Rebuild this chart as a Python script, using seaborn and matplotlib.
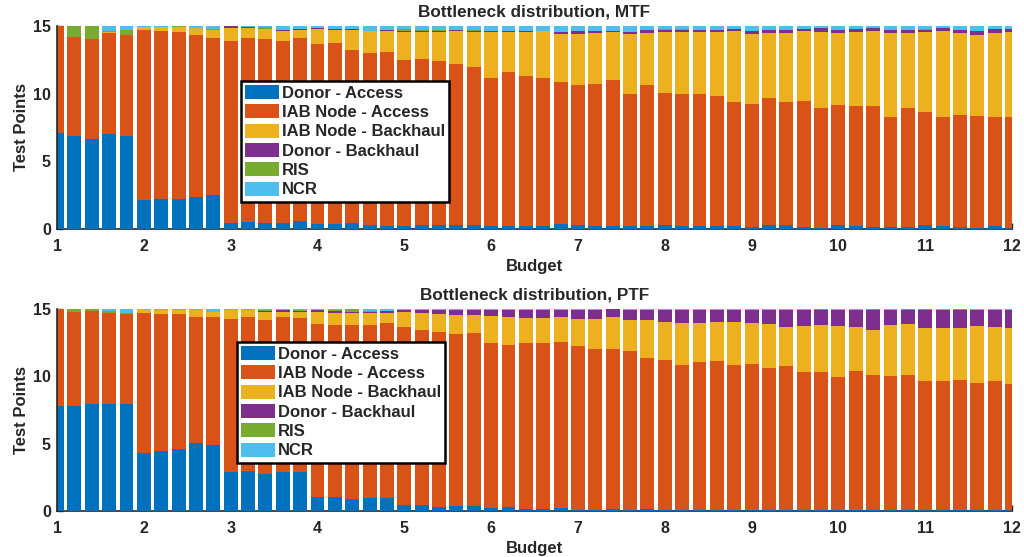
import numpy as np
import pandas as pd
import seaborn as sns
from matplotlib import pyplot as plt
from matplotlib.patches import Patch

budget = [1.0, 1.2, 1.4, 1.6, 1.8, 2.0, 2.2, 2.4, 2.6, 2.8,
          3.0, 3.2, 3.4, 3.6, 3.8, 4.0, 4.2, 4.4, 4.6, 4.8,
          5.0, 5.2, 5.4, 5.6, 5.8, 6.0, 6.2, 6.4, 6.6, 6.8,
          7.0, 7.2, 7.4, 7.6, 7.8, 8.0, 8.2, 8.4, 8.6, 8.8,
          9.0, 9.2, 9.4, 9.6, 9.8, 10.0, 10.2, 10.4, 10.6, 10.8,
          11.0, 11.2, 11.4, 11.6, 11.8, 12.0]

categories = ['Donor - Access', 'IAB Node - Access', 'IAB Node - Backhaul',
              'Donor - Backhaul', 'RIS', 'NCR']
colors = ['#0072BD', '#D95319', '#EDB120', '#7E2F8E', '#77AC30', '#4DBEEE']

# MTF
mtf_donor_access = [7.1, 6.9, 6.65, 7.0, 6.9, 2.15, 2.2, 2.2, 2.33, 2.53,
                    0.45, 0.5, 0.45, 0.45, 0.55, 0.4, 0.37, 0.45, 0.32, 0.25,
                    0.25, 0.3, 0.32, 0.27, 0.27, 0.2, 0.25, 0.25, 0.2, 0.37,
                    0.32, 0.25, 0.2, 0.2, 0.25, 0.3, 0.18, 0.22, 0.18, 0.2,
                    0.12, 0.27, 0.27, 0.17, 0.1, 0.27, 0.2, 0.15, 0.12, 0.12,
                    0.27, 0.2, 0.12, 0.1, 0.2, 0.1]
mtf_iab_access = [7.9, 7.25, 7.35, 7.5, 7.45, 12.52, 12.4, 12.37, 11.97, 11.6,
                  13.45, 13.6, 13.55, 13.45, 13.57, 13.29, 13.33, 12.79, 12.68, 12.85,
                  12.23, 12.26, 12.11, 11.93, 11.72, 10.98, 11.37, 11.08, 10.98, 10.47,
                  10.34, 10.49, 10.78, 9.75, 10.36, 9.77, 9.82, 9.78, 9.67, 9.21,
                  9.14, 9.39, 9.14, 9.29, 8.87, 8.89, 8.9, 8.95, 8.14, 8.78,
                  8.4, 8.06, 8.33, 8.28, 8.1, 8.2]
mtf_iab_backhaul = [0, 0, 0, 0.05, 0, 0.28, 0.35, 0.33, 0.55, 0.57,
                    0.95, 0.75, 0.8, 0.7, 0.58, 1.06, 1.0, 1.46, 1.6, 1.5,
                    2.07, 1.99, 2.12, 2.42, 2.56, 3.37, 2.93, 3.22, 3.42, 3.56,
                    3.74, 3.76, 3.57, 4.45, 3.89, 4.48, 4.55, 4.55, 4.7, 5.19,
                    5.14, 4.84, 5.09, 5.14, 5.58, 5.34, 5.45, 5.5, 6.19, 5.6,
                    5.88, 6.34, 6.05, 5.97, 6.2, 6.25]
mtf_donor_backhaul = [0, 0, 0, 0, 0, 0, 0, 0, 0, 0,
                      0.15, 0.1, 0, 0.1, 0.05, 0.1, 0.1, 0.05, 0.05, 0.1,
                      0.1, 0.1, 0.1, 0.05, 0.1, 0.05, 0.05, 0.05, 0.05, 0.15,
                      0.2, 0.15, 0.1, 0.17, 0.2, 0.15, 0.15, 0.15, 0.15, 0.2,
                      0.2, 0.22, 0.22, 0.17, 0.27, 0.17, 0.22, 0.22, 0.27, 0.22,
                      0.15, 0.22, 0.22, 0.27, 0.27, 0.22]
mtf_ris = [0, 0.85, 1.0, 0.05, 0.35, 0, 0, 0.1, 0, 0.1,
           0, 0, 0.1, 0, 0, 0, 0, 0, 0, 0,
           0.1, 0.05, 0.05, 0, 0.05, 0, 0, 0.05, 0, 0,
           0.05, 0, 0, 0, 0, 0.05, 0.05, 0, 0, 0,
           0.05, 0, 0, 0, 0, 0, 0, 0, 0, 0,
           0.1, 0, 0, 0.03, 0, 0]
mtf_ncr = [0, 0, 0, 0.4, 0.3, 0.05, 0.05, 0, 0.15, 0.2,
           0, 0.05, 0.1, 0.3, 0.25, 0.15, 0.2, 0.25, 0.35, 0.3,
           0.25, 0.3, 0.3, 0.33, 0.3, 0.4, 0.4, 0.35, 0.35, 0.45,
           0.35, 0.35, 0.35, 0.43, 0.3, 0.25, 0.25, 0.3, 0.3, 0.2,
           0.35, 0.28, 0.28, 0.23, 0.18, 0.33, 0.23, 0.18, 0.28, 0.28,
           0.2, 0.18, 0.28, 0.35, 0.23, 0.23]

# PTF
ptf_donor_access = [7.83, 7.78, 7.93, 7.96, 7.93, 4.31, 4.46, 4.63, 5.05, 4.93,
                    2.88, 2.98, 2.78, 2.86, 2.86, 1.06, 1.06, 0.91, 1.0, 1.0,
                    0.42, 0.47, 0.32, 0.39, 0.39, 0.22, 0.3, 0.17, 0.12, 0.25,
                    0.05, 0.1, 0.12, 0.05, 0.12, 0.05, 0.05, 0.05, 0.05, 0.07,
                    0.05, 0.05, 0.05, 0.05, 0.05, 0.1, 0.05, 0.05, 0.05, 0.05,
                    0.05, 0.05, 0.05, 0.05, 0.05, 0.05]
ptf_iab_access = [7.17, 7.02, 6.95, 6.77, 6.7, 10.42, 10.17, 10.0, 9.38, 9.45,
                  11.41, 11.4, 11.41, 11.52, 11.5, 12.81, 12.74, 12.89, 12.8, 12.99,
                  13.23, 13.0, 12.96, 12.74, 12.79, 12.27, 12.02, 12.27, 12.37, 12.29,
                  12.17, 11.9, 11.92, 11.8, 11.26, 11.13, 10.76, 10.98, 11.05, 10.74,
                  10.84, 10.54, 10.74, 10.25, 10.25, 9.88, 10.32, 10.02, 9.95, 10.02,
                  9.58, 9.61, 9.65, 9.48, 9.63, 9.36]
ptf_iab_backhaul = [0, 0, 0, 0, 0, 0.27, 0.32, 0.32, 0.47, 0.4,
                    0.61, 0.52, 0.61, 0.42, 0.42, 0.91, 0.9, 0.9, 0.9, 0.74,
                    1.13, 1.21, 1.35, 1.4, 1.4, 2.02, 2.09, 1.92, 1.87, 1.9,
                    2.0, 2.28, 2.36, 2.36, 2.78, 2.86, 3.15, 2.93, 2.9, 3.19,
                    3.07, 3.32, 2.85, 3.44, 3.51, 3.76, 3.3, 3.4, 3.81, 3.82,
                    3.96, 3.96, 3.89, 4.21, 3.96, 4.14]
ptf_donor_backhaul = [0, 0, 0, 0, 0, 0, 0, 0, 0, 0,
                      0, 0.05, 0.05, 0.1, 0.1, 0.17, 0.17, 0.05, 0.1, 0.1,
                      0.17, 0.27, 0.3, 0.37, 0.32, 0.44, 0.54, 0.59, 0.59, 0.51,
                      0.73, 0.67, 0.57, 0.74, 0.79, 0.91, 0.99, 0.99, 0.95, 0.95,
                      0.99, 1.04, 1.31, 1.21, 1.14, 1.21, 1.28, 1.48, 1.14, 1.06,
                      1.36, 1.33, 1.36, 1.21, 1.31, 1.4]
ptf_ris = [0, 0.2, 0.12, 0.12, 0.1, 0, 0, 0, 0, 0,
           0, 0, 0.1, 0.05, 0.07, 0, 0.08, 0.24, 0.05, 0.05,
           0, 0, 0, 0.05, 0.05, 0, 0, 0, 0, 0,
           0, 0, 0, 0, 0, 0, 0, 0, 0, 0,
           0, 0, 0, 0, 0.05, 0, 0, 0.05, 0, 0.05,
           0.05, 0, 0.05, 0, 0, 0]
ptf_ncr = [0, 0, 0, 0.15, 0.27, 0, 0.05, 0.05, 0.1, 0.22,
           0.1, 0.05, 0.05, 0.05, 0.05, 0.05, 0.05, 0, 0.15, 0.12,
           0.05, 0.05, 0.07, 0.05, 0.05, 0.05, 0.05, 0.05, 0.05, 0.05,
           0.05, 0.05, 0.05, 0.05, 0.05, 0.05, 0.05, 0.05, 0.05, 0.05,
           0.05, 0.05, 0.05, 0.05, 0, 0.05, 0.05, 0, 0.05, 0,
           0, 0.05, 0, 0.05, 0.05, 0.05]

mtf = pd.DataFrame(dict(zip(categories, [mtf_donor_access, mtf_iab_access, mtf_iab_backhaul,
                                         mtf_donor_backhaul, mtf_ris, mtf_ncr])), index=budget)
ptf = pd.DataFrame(dict(zip(categories, [ptf_donor_access, ptf_iab_access, ptf_iab_backhaul,
                                         ptf_donor_backhaul, ptf_ris, ptf_ncr])), index=budget)

sns.set_style('ticks')
plt.rcParams['font.family'] = ['Liberation Sans', 'DejaVu Sans']
plt.rcParams['font.weight'] = 'bold'
plt.rcParams['axes.labelweight'] = 'bold'
plt.rcParams['axes.titleweight'] = 'bold'
text_color = '#262626'

fig = plt.figure(figsize=(10.24, 5.57), dpi=100)
ax_top = fig.add_axes([0.0557, 0.589, 0.9326, 0.3645])
ax_bot = fig.add_axes([0.0557, 0.0826, 0.9326, 0.3627])


def stacked(ax, df, title, legend_xy):
    cum = df.cumsum(axis=1)
    # draw the tallest cumulative layer first, smaller ones on top
    for name, color in reversed(list(zip(categories, colors))):
        sns.barplot(x=list(df.index), y=cum[name].values, orient='x', native_scale=True,
                    width=0.8, color=color, saturation=1, errorbar=None,
                    linewidth=0, ax=ax)
    ax.set_xlim(1, 12)
    ax.set_ylim(0, 15)
    ax.set_xticks(range(1, 13))
    ax.set_yticks([0, 5, 10, 15])
    ax.tick_params(direction='in', length=4, width=1, labelsize=11.5,
                   colors=text_color)
    ax.tick_params(axis='x', pad=7)
    ax.tick_params(axis='y', pad=4.5)
    for lab in ax.get_xticklabels() + ax.get_yticklabels():
        lab.set_fontweight('bold')
    for s in ['top', 'right']:
        ax.spines[s].set_visible(False)
    for s in ['left', 'bottom']:
        ax.spines[s].set_color(text_color)
        ax.spines[s].set_linewidth(1.2)
    ax.spines['bottom'].set_zorder(0.5)
    ax.set_xlabel('Budget', fontsize=12, color=text_color, labelpad=4)
    ax.set_ylabel('Test Points', fontsize=12, color=text_color, labelpad=3)
    ax.set_title(title, fontsize=12.3, pad=6.5)
    handles = [Patch(facecolor=c, edgecolor='none', label=n) for n, c in zip(categories, colors)]
    leg = ax.legend(handles=handles, loc='upper left', bbox_to_anchor=legend_xy,
                    borderaxespad=0, fontsize=12, fancybox=False, framealpha=1,
                    edgecolor='black', handlelength=2.0, handleheight=0.9,
                    handletextpad=0.2, labelspacing=0.22, borderpad=0.25)
    leg.get_frame().set_linewidth(1.8)
    for t in leg.get_texts():
        t.set_fontweight('bold')


stacked(ax_top, mtf, 'Bottleneck distribution, MTF', (0.1927, 0.729))
stacked(ax_bot, ptf, 'Bottleneck distribution, PTF', (0.1885, 0.837))

fig.savefig('out.png', dpi=100)
